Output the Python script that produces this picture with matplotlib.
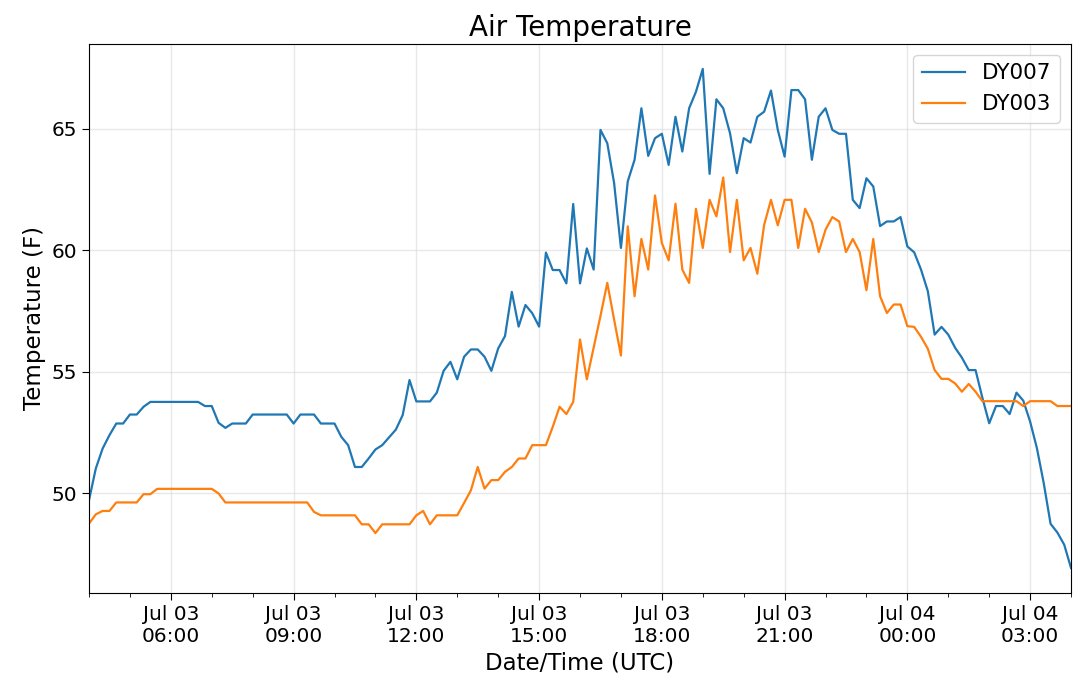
import matplotlib
matplotlib.use("Agg")
import matplotlib.pyplot as plt
import matplotlib.dates as mdates
import numpy as np
import pandas as pd

# 10-minute air temperature samples, Jul 03 04:00 -> Jul 04 04:00 UTC
times = pd.date_range("2019-07-03 04:00", periods=145, freq="10min")

dy007 = [
    49.71, 51.02, 51.84, 52.39, 52.87, 52.87, 53.24, 53.24, 53.56, 53.76,
    53.76, 53.76, 53.76, 53.76, 53.76, 53.76, 53.76, 53.59, 53.59, 52.90,
    52.69, 52.87, 52.87, 52.87, 53.24, 53.24, 53.24, 53.24, 53.24, 53.24,
    52.87, 53.24, 53.24, 53.24, 52.87, 52.87, 52.87, 52.32, 51.98, 51.08,
    51.08, 51.43, 51.80, 51.98, 52.30, 52.62, 53.22, 54.66, 53.78, 53.78,
    53.78, 54.14, 55.04, 55.41, 54.69, 55.62, 55.92, 55.92, 55.62, 55.04,
    55.96, 56.47, 58.29, 56.86, 57.75, 57.41, 56.86, 59.91, 59.19, 59.19,
    58.64, 61.91, 58.64, 60.08, 59.21, 64.96, 64.41, 62.77, 60.10, 62.84,
    63.73, 65.85, 63.89, 64.62, 64.80, 63.52, 65.50, 64.07, 65.85, 66.53,
    67.47, 63.15, 66.22, 65.85, 64.82, 63.18, 64.62, 64.44, 65.50, 65.71,
    66.58, 64.96, 63.86, 66.60, 66.60, 66.22, 63.73, 65.50, 65.85, 64.96,
    64.80, 64.80, 62.08, 61.74, 62.97, 62.63, 61.00, 61.19, 61.19, 61.37,
    60.16, 59.92, 59.21, 58.32, 56.53, 56.85, 56.53, 55.99, 55.58, 55.07,
    55.07, 53.93, 52.88, 53.59, 53.59, 53.26, 54.14, 53.81, 52.95, 51.85,
    50.41, 48.74, 48.38, 47.88, 46.92,
]

dy003 = [
    48.75, 49.13, 49.27, 49.27, 49.62, 49.62, 49.62, 49.62, 49.96, 49.96,
    50.18, 50.18, 50.18, 50.18, 50.18, 50.18, 50.18, 50.18, 50.18, 49.99,
    49.62, 49.62, 49.62, 49.62, 49.62, 49.62, 49.62, 49.62, 49.62, 49.62,
    49.62, 49.62, 49.62, 49.23, 49.09, 49.09, 49.09, 49.09, 49.09, 49.09,
    48.72, 48.72, 48.36, 48.72, 48.72, 48.72, 48.72, 48.72, 49.09, 49.27,
    48.72, 49.09, 49.09, 49.09, 49.09, 49.60, 50.12, 51.08, 50.19, 50.54,
    50.54, 50.88, 51.08, 51.43, 51.43, 51.98, 51.98, 51.98, 52.73, 53.56,
    53.26, 53.76, 56.33, 54.69, 56.00, 57.30, 58.66, 57.15, 55.67, 60.99,
    58.11, 60.47, 59.21, 62.26, 60.30, 59.59, 61.92, 59.21, 58.66, 61.71,
    60.10, 62.08, 61.40, 63.00, 59.93, 62.08, 59.59, 60.10, 59.04, 61.05,
    62.08, 61.03, 62.08, 62.08, 60.10, 61.71, 61.15, 59.93, 60.85, 61.37,
    61.19, 59.93, 60.47, 59.93, 58.36, 60.47, 58.11, 57.42, 57.77, 57.77,
    56.88, 56.85, 56.44, 55.95, 55.07, 54.71, 54.71, 54.52, 54.18, 54.50,
    54.18, 53.79, 53.79, 53.79, 53.79, 53.79, 53.79, 53.59, 53.79, 53.79,
    53.79, 53.79, 53.59, 53.59, 53.59,
]

fig = plt.figure(figsize=(10.8, 6.83), dpi=100)
ax = fig.add_axes([0.0824, 0.1318, 0.9093, 0.8038])

ax.plot(times, dy007, color="#1f77b4", lw=1.6, label="DY007")
ax.plot(times, dy003, color="#ff7f0e", lw=1.6, label="DY003")

ax.set_xlim(times[0], times[-1])
ax.xaxis.set_major_locator(mdates.HourLocator(byhour=range(0, 24, 3)))
ax.xaxis.set_minor_locator(mdates.HourLocator())
ax.xaxis.set_major_formatter(mdates.DateFormatter("%b %d\n%H:%M"))
for lbl in ax.get_xticklabels():
    lbl.set_horizontalalignment("center")

ax.tick_params(axis="both", which="major", labelsize=14.5, length=5)
ax.tick_params(axis="x", which="minor", length=3)
ax.grid(True, which="major", color="#d9d9d9", alpha=0.6, lw=1)

ax.set_title("Air Temperature", fontsize=20)
ax.set_xlabel("Date/Time (UTC)", fontsize=16.5)
ax.set_ylabel("Temperature (F)", fontsize=16.5)
ax.legend(loc="upper right", fontsize=15.5)

fig.savefig("out.png", dpi=100)
